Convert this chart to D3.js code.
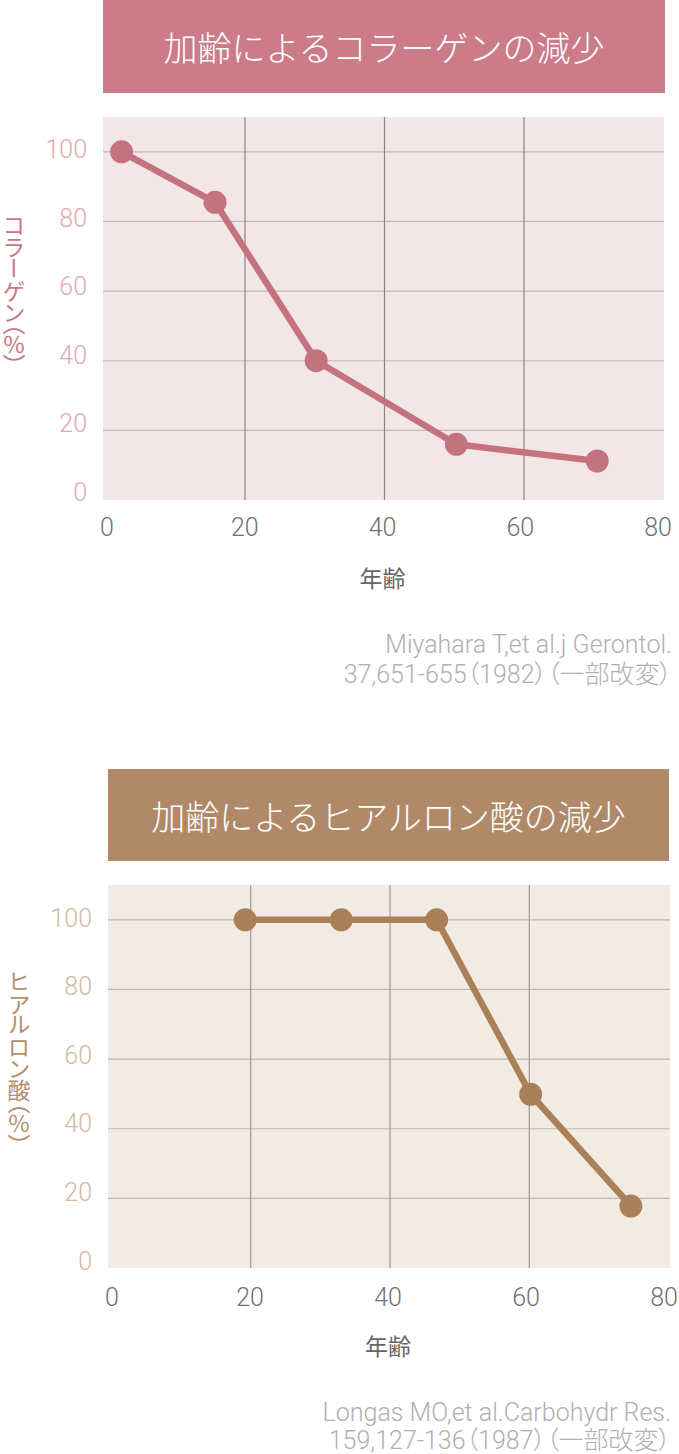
<!DOCTYPE html>
<html><head><meta charset="utf-8">
<script src="https://cdn.jsdelivr.net/npm/d3@7"></script>
<style>
html,body{margin:0;padding:0;background:#fff;}
svg text{font-family:Roboto,"Noto Sans CJK JP",sans-serif;}
</style></head>
<body>
<svg id="chart" width="679" height="1454"></svg>
<script>
// ---- data ----
const xTicks = [0, 20, 40, 60, 80];
const yTicks = [0, 20, 40, 60, 80, 100];

const collagenAges   = [2.3, 15.7, 30.2, 50.3, 70.5];
const collagenValues = [100, 85.5, 40, 16, 11.2];

const hyaluronAges   = [19.2, 33, 46.7, 60.2, 74.6];
const hyaluronValues = [100, 100, 100, 49.9, 17.8];

const titles  = ["加齢によるコラーゲンの減少", "加齢によるヒアルロン酸の減少"];
const yTitles = ["コラーゲン（％）", "ヒアルロン酸（％）"];
const xTitle  = "年齢";
const citations = [
  ["Miyahara T,et al.j Gerontol.", "37,651-655（1982）（一部改変）"],
  ["Longas MO,et al.Carbohydr Res.", "159,127-136（1987）（一部改変）"]
];

// ---- layout / style ----
const panels = [
  {ages: collagenAges, values: collagenValues, title: titles[0], yTitle: yTitles[0], cite: citations[0],
   box: [103, 0, 665, 93], plot: [103, 117, 664, 500], xr: [105.5, 663.5], xlr: [107, 658], ylr: [492.5, 149.5],
   boxColor: "#cc7b89", bg: "#f3e6e7", line: "#c5727f", hGrid: "#c8b6b8", vGrid: "#8e8386",
   yTickColor: "#e0a9b0", yTitleColor: "#c97684", yTickRight: 87, yTitleX: 14,
   yTitleY: 290, xTickY: 527, xTitleY: 577, citeX: 672, citeY: [653, 683]},
  {ages: hyaluronAges, values: hyaluronValues, title: titles[1], yTitle: yTitles[1], cite: citations[1],
   box: [108, 769, 669, 861], plot: [108, 885, 670, 1268], xr: [111.5, 668.5], xlr: [112, 664], ylr: [1261, 918],
   boxColor: "#b08a68", bg: "#f1ebe4", line: "#aa8058", hGrid: "#bfb7af", vGrid: "#a29a92",
   yTickColor: "#d2b9a0", yTitleColor: "#b48e6c", yTickRight: 92, yTitleX: 19,
   yTitleY: 1058, xTickY: 1297, xTitleY: 1345, citeX: 671, citeY: [1421, 1449]}
];

const svg = d3.select("#chart");

panels.forEach(p => {
  const g = svg.append("g");
  const [bx0, by0, bx1, by1] = p.box;
  const [px0, py0, px1, py1] = p.plot;

  // title box
  g.append("rect").attr("x", bx0).attr("y", by0).attr("width", bx1 - bx0).attr("height", by1 - by0)
    .attr("fill", p.boxColor);
  g.append("text").attr("x", (bx0 + bx1) / 2).attr("y", (by0 + by1) / 2)
    .attr("text-anchor", "middle").attr("dominant-baseline", "central")
    .attr("fill", "#fff").attr("font-size", 34).attr("font-weight", 300)
    .style("font-family", '"Noto Sans CJK JP",sans-serif')
    .text(p.title);

  const x = d3.scaleLinear().domain([0, 80]).range(p.xr);
  const xl = d3.scaleLinear().domain([0, 80]).range(p.xlr);
  const y = d3.scaleLinear().domain([0, 100]).range([py1, py1 - (py1 - py0) * 100 / 110]);
  const yl = d3.scaleLinear().domain([0, 100]).range(p.ylr);

  // plot background
  g.append("rect").attr("x", px0).attr("y", py0).attr("width", px1 - px0).attr("height", py1 - py0)
    .attr("fill", p.bg);

  // horizontal grid
  g.append("g").selectAll("line").data(yTicks.filter(t => t > 0)).join("line")
    .attr("x1", px0).attr("x2", px1)
    .attr("y1", d => y(d)).attr("y2", d => y(d))
    .attr("stroke", p.hGrid).attr("stroke-width", 1.2);
  // vertical grid
  g.append("g").selectAll("line").data(xTicks.filter(t => t > 0 && t < 80)).join("line")
    .attr("x1", d => x(d)).attr("x2", d => x(d))
    .attr("y1", py0).attr("y2", py1)
    .attr("stroke", p.vGrid).attr("stroke-width", 1.2);

  // y tick labels
  g.append("g").selectAll("text").data(yTicks).join("text")
    .attr("x", p.yTickRight).attr("y", d => yl(d))
    .attr("text-anchor", "end").attr("dominant-baseline", "central")
    .attr("fill", p.yTickColor).attr("font-size", 25).attr("font-weight", 300)
    .text(d => d);

  // x tick labels
  g.append("g").selectAll("text").data(xTicks).join("text")
    .attr("x", d => xl(d)).attr("y", p.xTickY)
    .attr("text-anchor", "middle").attr("dominant-baseline", "central")
    .attr("fill", "#707070").attr("font-size", 25).attr("font-weight", 300)
    .text(d => d);

  // x title
  g.append("text").attr("x", xl(40)).attr("y", p.xTitleY)
    .attr("text-anchor", "middle").attr("dominant-baseline", "central")
    .attr("fill", "#666").attr("font-size", 23)
    .style("font-family", '"Noto Sans CJK JP",sans-serif')
    .text(xTitle);

  // y title (vertical)
  g.append("text").attr("x", p.yTitleX).attr("y", p.yTitleY)
    .attr("text-anchor", "middle")
    .style("writing-mode", "vertical-rl")
    .style("font-feature-settings", '"vpal" 1')
    .style("font-family", '"Noto Sans CJK JP",sans-serif')
    .attr("fill", p.yTitleColor).attr("font-size", 23)
    .text(p.yTitle);

  // line + points
  const pts = p.ages.map((a, i) => [a, p.values[i]]);
  g.append("path").datum(pts)
    .attr("d", d3.line().x(d => x(d[0])).y(d => y(d[1])))
    .attr("fill", "none").attr("stroke", p.line).attr("stroke-width", 6.5)
    .attr("stroke-linejoin", "round");
  g.append("g").selectAll("circle").data(pts).join("circle")
    .attr("cx", d => x(d[0])).attr("cy", d => y(d[1])).attr("r", 11.5)
    .attr("fill", p.line);

  // citation
  g.append("g").selectAll("text").data(p.cite).join("text")
    .attr("x", p.citeX).attr("y", (d, i) => p.citeY[i])
    .attr("text-anchor", "end").attr("fill", "#b0b0b0").attr("font-size", 25).attr("font-weight", 300)
    .style("font-feature-settings", '"palt" 1')
    .text(d => d);
});
</script>
</body></html>
